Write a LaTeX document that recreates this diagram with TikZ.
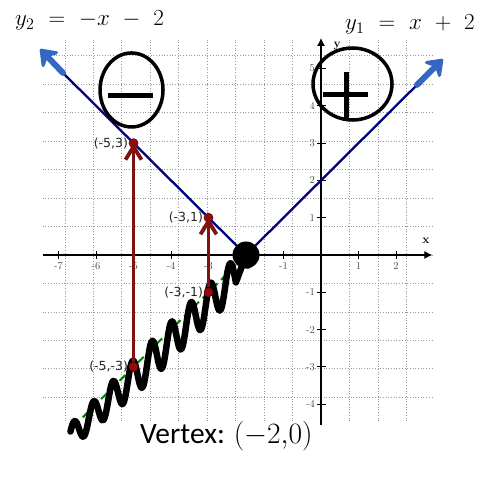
\RequirePackage{fix-cm}
\documentclass[tikz,border=0pt]{standalone}
\usepackage{fontspec}
\newfontfamily\carlito{Carlito}
\newfontfamily\dejavu{DejaVu Sans}
\usetikzlibrary{arrows.meta}
\definecolor{navyline}{RGB}{0,0,128}
\definecolor{inkblue}{RGB}{52,102,196}
\definecolor{darkred}{RGB}{128,18,18}
\definecolor{dotred}{RGB}{150,10,10}
\definecolor{dashgreen}{RGB}{0,128,0}
\begin{document}
\begin{tikzpicture}[x=37.5pt,y=37.3pt,
  gridline/.style={black!40, dotted, line width=0.7pt},
  axisline/.style={black, line width=1.2pt},
  tickmark/.style={black, line width=0.8pt},
  ticklab/.style={font=\fontsize{10.5}{12}\selectfont, text=black!70, inner sep=0pt},
  axislab/.style={font=\bfseries\fontsize{12}{14}\selectfont, inner sep=0pt},
  ptdot/.style={circle, fill=dotred, draw=darkred!70!black, line width=0.6pt, inner sep=0pt, minimum size=9pt},
  ptlab/.style={font=\dejavu\fontsize{12.5}{14}\selectfont, inner sep=0.5pt, text=black!85, anchor=east},
  redarrow/.style={darkred, line width=3.8pt, -{Straight Barb[length=13pt,width=16pt]}},
  navyseg/.style={navyline, line width=2.3pt},
  bluearrow/.style={inkblue, line width=6pt, line cap=round, line join=round, -{Stealth[round, length=19pt, width=28pt, inset=7pt]}},
  greendash/.style={dashgreen, line width=2pt, dash pattern=on 8pt off 5pt},
  squiggle/.style={black, line width=6.5pt, line cap=round, line join=round},
  signring/.style={black, line width=3.5pt},
  signbar/.style={black, line width=5pt},
  eqlab/.style={font=\fontsize{23}{27}\selectfont, inner sep=0pt, anchor=base west}
]
\useasboundingbox (-8.56,-5.952) rectangle (4.453,6.836);

% grid
\draw[gridline] (-7.42,-4.45) grid (2.96,5.82);

% axes
\draw[axisline, -{Latex[length=8pt,width=8pt]}] (-7.42,0) -- (2.97,0);
\draw[axisline, -{Latex[length=8pt,width=8pt]}] (0,-4.56) -- (0,5.82);
\foreach \i in {-7,...,-1,1,2} {
  \draw[tickmark] (\i,-0.1) -- (\i,0.1);
  \node[ticklab] (xt\i) at (\i,-0.3) {\i};
}
\foreach \j in {-4,...,-1,1,2,3,4,5} {
  \draw[tickmark] (-0.12,\j) -- (0.12,\j);
  \node[ticklab, anchor=east] (yt\j) at (-0.16,\j) {\j};
}
\node[axislab] (xlab) at (2.8,0.37) {x};
\node[axislab] (ylab) at (0.43,5.6) {y};

% vertex and key coordinates
\coordinate (vc) at (-2,0);
\coordinate (g0) at (-6.6,-4.6);
\coordinate (l1) at (-6.88,4.88);
\coordinate (t1) at (-7.49,5.52);
\coordinate (l2) at (2.56,4.56);
\coordinate (t2) at (3.25,5.25);

% green dashed continuation
\draw[greendash] (g0) -- (vc);

% squiggle
\draw[squiggle] plot[smooth, samples=180, domain=-6.68:-2.267]
  (\x, {\x + 2 + (0.3 + 0.2*min(1,(\x+6.7)/2))*(-0.6 + cos(360*(\x+2.4267)/0.52))}) -- (vc);

% navy lines and blue arrows
\draw[navyseg] (vc) -- (l1);
\draw[navyseg] (vc) -- (l2);
\draw[bluearrow] (l1) -- (t1);
\draw[bluearrow] (l2) -- (t2);

% points
\node[ptdot] (p53) at (-5,3) {};
\node[ptdot] (p31) at (-3,1) {};
\node[ptdot] (pm31) at (-3,-1) {};
\node[ptdot] (pm53) at (-5,-3) {};
\node[ptlab] (lp53) at (p53.west) {(-5,3)};
\node[ptlab] (lp31) at (p31.west) {(-3,1)};
\node[ptlab] (lpm31) at (pm31.west) {(-3,-1)};
\node[ptlab] (lpm53) at (pm53.west) {(-5,-3)};

% red arrows
\draw[redarrow] (pm53) -- (p53.center);
\draw[redarrow] (pm31) -- (p31.center);

% vertex dot
\node[circle, fill=black, inner sep=0pt, minimum size=27pt] (v) at (vc) {};

% circled signs
\draw[signring] (-5.053,4.424) ellipse [x radius=31.5pt, y radius=37pt];
\draw[signbar] (-5.68,4.263) -- (-4.48,4.263);
\draw[signring] (0.84,4.584) ellipse [x radius=39.5pt, y radius=36pt];
\draw[signbar] (0.053,4.29) -- (1.253,4.29);
\draw[signbar] (0.667,4.906) -- (0.667,3.673);

% equations
\node[eqlab] (eq2) at (-8.16,6.139) {\thickmuskip=11mu \medmuskip=10mu $y_2 = -x - 2$};
\node[eqlab] (eq1) at (0.64,6.032) {\thickmuskip=11mu \medmuskip=10mu $y_1 = x + 2$};

% vertex text
\node[anchor=base west, inner sep=0pt, font=\fontsize{29.5}{33}\selectfont] (vtx) at (-4.827,-5.06) {\carlito Vertex: $({-2}{,}0)$};
\end{tikzpicture}
\end{document}
